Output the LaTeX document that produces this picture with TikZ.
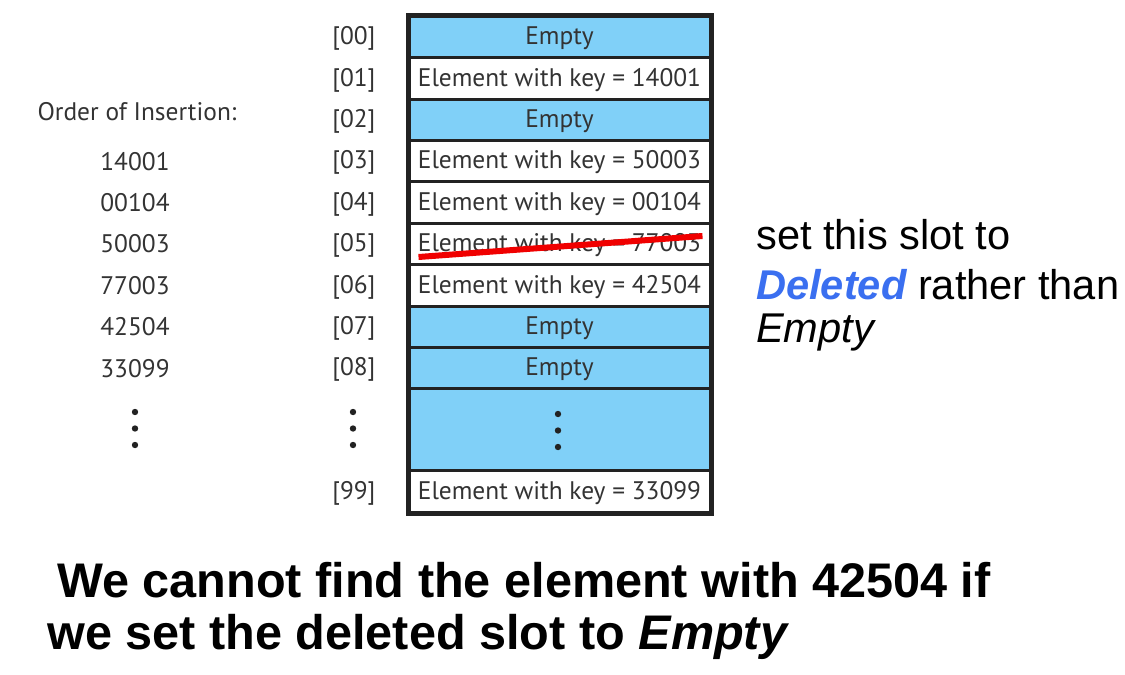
\documentclass[tikz,border=0pt]{standalone}
\usepackage{fontspec}
\setmainfont{Liberation Sans}
\newfontfamily\tablefont{PT Sans}
\usetikzlibrary{calc}

\definecolor{borderColour}{HTML}{222222}
\definecolor{emptyColour}{HTML}{80D0F8}
\definecolor{textColour}{HTML}{333333}
\definecolor{deletedBlue}{HTML}{3A6FF0}
\definecolor{strikeRed}{HTML}{F00000}

\tikzset{
    slot/.style={draw=borderColour, line width=3pt, minimum width=301pt, minimum height=41.4pt,
        inner sep=0pt, text height=19pt, text depth=3.6pt, text=textColour,
        font=\tablefont\fontsize{25.4}{25.4}\selectfont},
    emptySlot/.style={slot, fill=emptyColour},
    fullSlot/.style={slot, fill=white},
    index/.style={anchor=east, text height=19pt, text depth=3.6pt, text=textColour,
        font=\tablefont\fontsize{25.4}{25.4}\selectfont},
    order/.style={text=textColour, font=\tablefont\fontsize{25.4}{25.4}\selectfont},
    note/.style={anchor=west, inner sep=0pt, font=\fontsize{41.6}{41.6}\selectfont},
    message/.style={anchor=west, inner sep=0pt, font=\bfseries\fontsize{48.6}{48.6}\selectfont}
}

\begin{document}
\begin{tikzpicture}[x=1pt, y=-1pt]
    \useasboundingbox (0,0) rectangle (1125,675);

    % Define row spacing
    \def\rowStep{41.4}

    % Draw the hash table slots
    \foreach \i/\r/\txt/\sty in {00/0/Empty/emptySlot, 01/1/Element with key = 14001/fullSlot,
        02/2/Empty/emptySlot, 03/3/Element with key = 50003/fullSlot,
        04/4/Element with key = 00104/fullSlot, 05/5/Element with key = 77003/fullSlot,
        06/6/Element with key = 42504/fullSlot, 07/7/Empty/emptySlot, 08/8/Empty/emptySlot} {
        \node[\sty] (s\i) at (559.5, 37+\rowStep*\r) {\txt};
        \node[index] (i\i) at (379, 37+\rowStep*\r) {[\i]};
    }
    \node[emptySlot, minimum height=82.2pt] (sdots) at (559.5, 429.7) {};
    \node[fullSlot] (s99) at (559.5, 491.5) {Element with key = 33099};
    \node[index] (i99) at (379, 491.5) {[99]};

    % Draw outer frame
    \draw[borderColour, line width=4pt] (s00.north west) rectangle (s99.south east);

    % Strike out the deleted slot
    \draw[strikeRed, line width=6pt] ($(s05.center)+(-141,13)$) -- ($(s05.center)+(143,-8)$);

    % Order of insertion
    \node[order] (orderTitle) at (137, 112) {Order of Insertion:};
    \foreach \k/\j in {14001/3, 00104/4, 50003/5, 77003/6, 42504/7, 33099/8}
        \node[order] (o\k) at (135, 37+\rowStep*\j) {\k};

    % Vertical dots
    \foreach \x/\y in {135/412, 353/412, 558/414} {
        \fill[borderColour] (\x,\y) circle (3.2pt);
        \fill[borderColour] (\x,\y+16.5) circle (3.2pt);
        \fill[borderColour] (\x,\y+33) circle (3.2pt);
    }

    % Notes
    \node[note] (note1) at (756, 235) {set this slot to};
    \node[note] (note2) at (756, 285) {\textcolor{deletedBlue}{\bfseries\itshape Deleted} rather than};
    \node[note] (note3) at (756, 333) {\itshape Empty};

    \node[message] (msg1) at (57, 580) {We cannot find the element with 42504 if};
    \node[message] (msg2) at (47, 637) {we set the deleted slot to \itshape Empty};

\end{tikzpicture}
\end{document}
